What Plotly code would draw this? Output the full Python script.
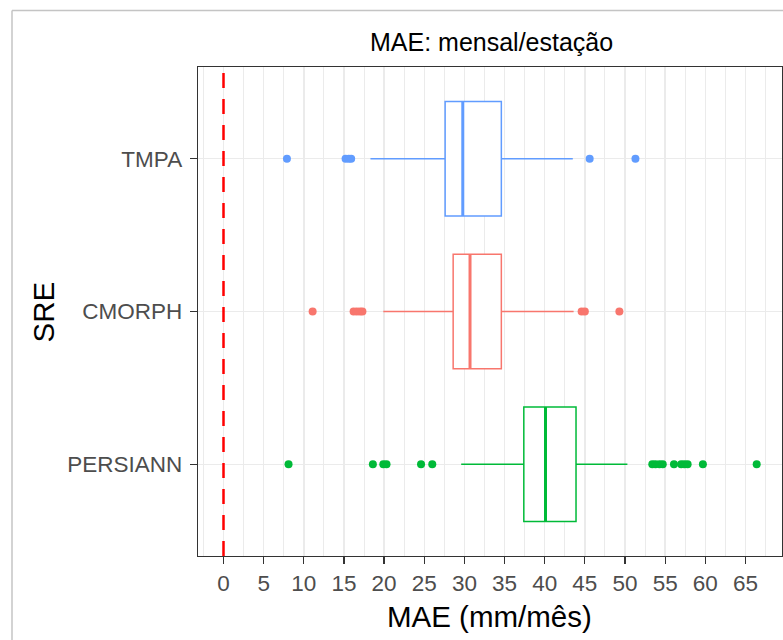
import plotly.graph_objects as go

# ---- data ----
categories = ["PERSIANN", "CMORPH", "TMPA"]
positions = [1, 2, 3]
colors = ["#00BA38", "#F8766D", "#619CFF"]

q1 = [37.4, 28.6, 27.6]
median = [40.1, 30.7, 29.8]
q3 = [43.9, 34.6, 34.6]
lower_whisker = [29.6, 19.9, 18.3]
upper_whisker = [50.3, 43.6, 43.5]

outliers_persiann = [8.1, 18.6, 19.9, 20.3, 24.6, 26.0, 53.4, 53.8, 54.3, 54.7,
                     56.1, 57.0, 57.4, 57.8, 59.7, 66.4]
outliers_cmorph = [11.1, 16.2, 16.6, 17.0, 17.3, 44.6, 45.0, 49.3]
outliers_tmpa = [7.9, 15.2, 15.6, 15.9, 45.6, 51.3]
outliers = [outliers_persiann, outliers_cmorph, outliers_tmpa]

x_ticks = list(range(0, 70, 5))
reference_line = 0

# ---- layout geometry (body margin removed via post_script) ----
W, H = 783, 640
PANEL_L, PANEL_R, PANEL_T, PANEL_B = 198, 782, 67, 556   # target page pixels
L = PANEL_L
R = W - PANEL_R
T = PANEL_T
B = H - PANEL_B
PW, PH = W - L - R, H - T - B
BOX_W = 0.75


def px(xp):  # page pixel -> paper x
    return (xp - L) / PW


def py(yp):  # page pixel -> paper y
    return (H - B - yp) / PH


FONT = "Liberation Sans, Arial, sans-serif"

fig = go.Figure()

for i, cat in enumerate(categories):
    fig.add_trace(go.Box(
        y=[positions[i]],
        q1=[q1[i]], median=[median[i]], q3=[q3[i]],
        lowerfence=[lower_whisker[i]], upperfence=[upper_whisker[i]],
        orientation="h",
        width=BOX_W,
        whiskerwidth=0,
        boxpoints=False,
        fillcolor="white",
        line=dict(color=colors[i], width=1.5),
        name=cat,
        showlegend=False,
        hoverinfo="skip",
    ))
    # thicker median line (ggplot style)
    fig.add_trace(go.Scatter(
        x=[median[i], median[i]],
        y=[positions[i] - BOX_W / 2, positions[i] + BOX_W / 2],
        mode="lines",
        line=dict(color=colors[i], width=3),
        showlegend=False, hoverinfo="skip",
    ))
    fig.add_trace(go.Scatter(
        x=outliers[i],
        y=[positions[i]] * len(outliers[i]),
        mode="markers",
        marker=dict(color=colors[i], size=8),
        showlegend=False, hoverinfo="skip",
    ))

fig.add_shape(type="line", xref="x", yref="paper",
              x0=reference_line, x1=reference_line, y0=0, y1=1,
              line=dict(color="#FF0000", width=2.5, dash="15px,11px"))

# outer light-grey frame (screenshot border)
fig.add_shape(type="line", xref="paper", yref="paper",
              x0=px(12), x1=px(783), y0=py(10.5), y1=py(10.5),
              line=dict(color="#C4C4C4", width=1.5))
fig.add_shape(type="line", xref="paper", yref="paper",
              x0=px(12), x1=px(12), y0=py(10.5), y1=py(640),
              line=dict(color="#C4C4C4", width=1.5))

fig.update_layout(
    width=W, height=H,
    margin=dict(l=L, r=R, t=T, b=B, pad=0),
    paper_bgcolor="white", plot_bgcolor="white",
    boxmode="overlay",
    font=dict(family=FONT, color="#4D4D4D"),
    annotations=[
        dict(text="MAE: mensal/estação", x=px(491), y=py(42), xref="paper", yref="paper",
             showarrow=False, xanchor="center", yanchor="middle",
             font=dict(size=25, color="black", family=FONT)),
        dict(text="MAE (mm/mês)", x=px(489), y=py(616), xref="paper", yref="paper",
             showarrow=False, xanchor="center", yanchor="middle",
             font=dict(size=29.5, color="black", family=FONT)),
        dict(text="SRE", x=px(42.5), y=py(312), xref="paper", yref="paper",
             showarrow=False, xanchor="center", yanchor="middle", textangle=-90,
             font=dict(size=29.5, color="black", family=FONT)),
    ],
)

fig.update_xaxes(
    range=[(PANEL_L - 223.5) / 8.03, (PANEL_R - 223.5) / 8.03],
    tickmode="array", tickvals=x_ticks, ticktext=[str(v) for v in x_ticks],
    ticks="outside", ticklen=7, tickwidth=1.3, tickcolor="#333333",
    tickfont=dict(size=22.5, color="#4D4D4D"),
    ticklabelstandoff=0,
    showgrid=True, gridcolor="#EBEBEB", gridwidth=1.5,
    minor=dict(dtick=2.5, tick0=0, showgrid=True, gridcolor="#EBEBEB", gridwidth=1.0, ticks=""),
    showline=True, linecolor="#333333", linewidth=1.3, mirror=True,
    zeroline=False,
)
fig.update_yaxes(
    range=[0.4, 3.6],
    tickmode="array", tickvals=positions, ticktext=categories,
    ticks="outside", ticklen=7, tickwidth=1.3, tickcolor="#333333",
    tickfont=dict(size=22.5, color="#4D4D4D"),
    ticklabelstandoff=3,
    showgrid=True, gridcolor="#EBEBEB", gridwidth=1.5,
    showline=True, linecolor="#333333", linewidth=1.3, mirror=True,
    zeroline=False,
)

fig.write_html(
    "out.html",
    config={"displayModeBar": False, "staticPlot": True},
    post_script="document.body.style.margin='0px'; document.body.style.overflow='hidden';",
)
